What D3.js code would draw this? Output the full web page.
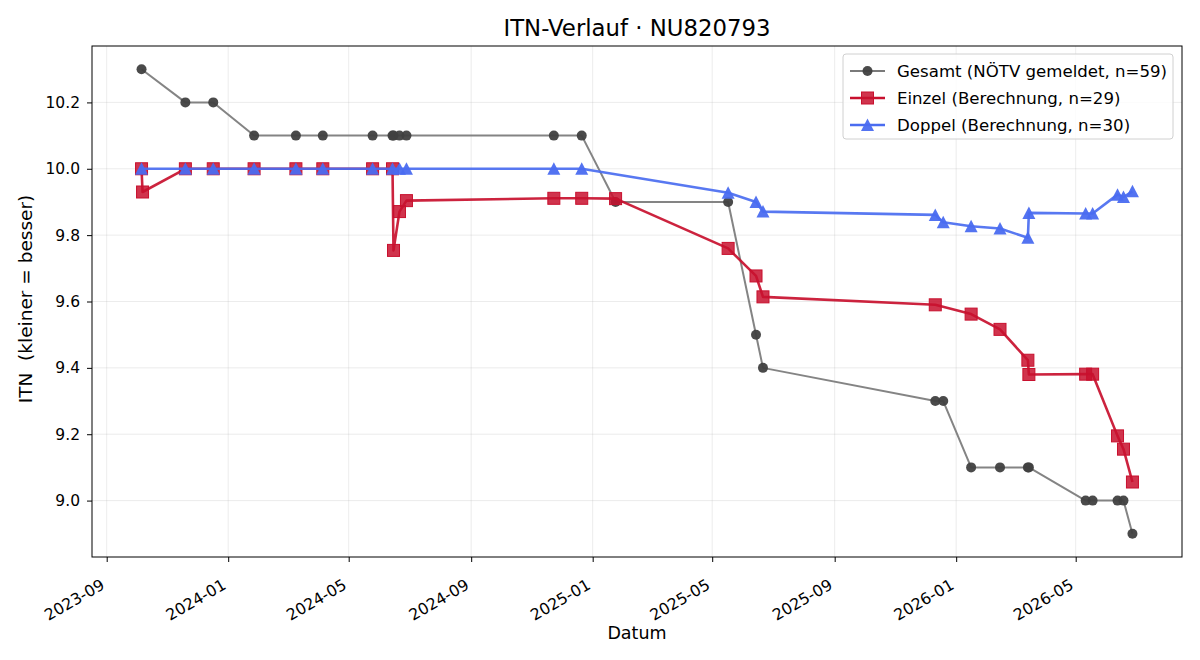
<!DOCTYPE html>
<html>
<head>
<meta charset="utf-8">
<script src="https://cdn.jsdelivr.net/npm/d3@7"></script>
<style>
  body { margin: 0; background: #fff; }
  svg { font-family: "DejaVu Sans", sans-serif; }
</style>
</head>
<body>
<div id="wrapper"></div>
<script>
// Gesamt (NÖTV gemeldet)
const gesamtDates = ["2023-10-06","2023-11-19","2023-12-17","2024-01-27","2024-03-09","2024-04-05","2024-05-25",
    "2024-06-14","2024-06-15","2024-06-21","2024-06-28","2024-11-23","2024-12-21","2025-01-24","2025-05-17",
    "2025-06-14","2025-06-21","2025-12-11","2025-12-19","2026-01-16","2026-02-14","2026-03-14","2026-03-15",
    "2026-05-11","2026-05-18","2026-06-12","2026-06-18","2026-06-27"]
const gesamtValues = [10.3,10.2,10.2,10.1,10.1,10.1,10.1,10.1,10.1,10.1,10.1,10.1,10.1,9.9,9.9,
    9.5,9.4,9.3,9.3,9.1,9.1,9.1,9.1,9.0,9.0,9.0,9.0,8.9]

// Einzel (Berechnung)
const einzelDates = ["2023-10-06","2023-10-07","2023-11-19","2023-12-17","2024-01-27","2024-03-09","2024-04-05",
    "2024-05-25","2024-06-14","2024-06-15","2024-06-21","2024-06-28","2024-11-23","2024-12-21","2025-01-24",
    "2025-05-17","2025-06-14","2025-06-21","2025-12-11","2026-01-16","2026-02-14","2026-03-14","2026-03-15",
    "2026-05-11","2026-05-18","2026-06-12","2026-06-18","2026-06-27"]
const einzelValues = [10.0,9.93,10.0,10.0,10.0,10.0,10.0,10.0,10.0,9.754,9.871,9.904,9.911,9.911,9.91,
    9.76,9.677,9.614,9.59,9.562,9.516,9.423,9.38,9.381,9.381,9.195,9.155,9.056]

// Doppel (Berechnung)
const doppelDates = ["2023-10-06","2023-11-19","2023-12-17","2024-01-27","2024-03-09","2024-04-05","2024-05-25",
    "2024-06-14","2024-06-21","2024-06-28","2024-11-23","2024-12-21","2025-05-17","2025-06-14","2025-06-21",
    "2025-12-11","2025-12-19","2026-01-16","2026-02-14","2026-03-14","2026-03-15","2026-05-11","2026-05-18",
    "2026-06-12","2026-06-18","2026-06-27"]
const doppelValues = [10.0,10.0,10.0,10.0,10.0,10.0,10.0,10.0,10.0,10.0,10.0,10.0,9.928,9.90,9.871,
    9.861,9.839,9.827,9.82,9.792,9.867,9.865,9.865,9.922,9.915,9.932]

const yTicks = [9.0,9.2,9.4,9.6,9.8,10.0,10.2]
const legendLabels = ["Gesamt (NÖTV gemeldet, n=59)", "Einzel (Berechnung, n=29)", "Doppel (Berechnung, n=30)"]

function drawchart() {
    const parse = d3.timeParse("%Y-%m-%d")
    const toPts = (ds, vs) => ds.map((d, i) => ({X: parse(d), Y: vs[i]}))
    const series = [
        {name: legendLabels[0], data: toPts(gesamtDates, gesamtValues), line: "#7a7a7a", fill: "#404040", shape: "circle", lw: 2},
        {name: legendLabels[1], data: toPts(einzelDates, einzelValues), line: "#c8102e", fill: "#c8102e", shape: "square", lw: 2.6},
        {name: legendLabels[2], data: toPts(doppelDates, doppelValues), line: "#4a6cf0", fill: "#4a6cf0", shape: "triangle", lw: 2.6}
    ]

    const width = 1200, height = 660
    const left = 92, right = 1182, top = 46, bottom = 557
    const font = "DejaVu Sans, sans-serif"

    const parent = d3.select("#wrapper")
    parent.selectAll('*').remove()
    const svg = parent.append("svg").attr("width", width).attr("height", height)

    const all = series.flatMap(s => s.data)
    const xExt = d3.extent(all, d => d.X)
    const xPad = (xExt[1] - xExt[0]) * 0.05
    const yExt = d3.extent(all, d => d.Y)
    const yPad = (yExt[1] - yExt[0]) * 0.05

    const xScaler = d3.scaleTime()
        .domain([new Date(+xExt[0] - xPad), new Date(+xExt[1] + xPad)])
        .range([left, right])
    const yScaler = d3.scaleLinear()
        .domain([yExt[0] - yPad, yExt[1] + yPad])
        .range([bottom, top])

    const xTicks = xScaler.ticks(d3.timeMonth.every(4))

    // grid
    const grid = svg.append("g").attr("stroke", "#b0b0b0").attr("stroke-opacity", 0.3).attr("stroke-width", 0.8)
    grid.selectAll(".gx").data(xTicks).enter().append("line")
        .attr("x1", d => xScaler(d)).attr("x2", d => xScaler(d))
        .attr("y1", top).attr("y2", bottom)
    grid.selectAll(".gy").data(yTicks).enter().append("line")
        .attr("y1", d => yScaler(d)).attr("y2", d => yScaler(d))
        .attr("x1", left).attr("x2", right)

    // axes
    const xAxis = d3.axisBottom(xScaler).tickValues(xTicks).tickFormat(d3.timeFormat("%Y-%m"))
        .tickSizeInner(5).tickSizeOuter(0).tickPadding(4)
    const yAxis = d3.axisLeft(yScaler).tickValues(yTicks).tickFormat(d3.format(".1f"))
        .tickSizeInner(5).tickSizeOuter(0).tickPadding(7)

    const gx = svg.append("g").attr("transform", "translate(0," + bottom + ")").call(xAxis)
        .attr("font-family", font).attr("font-size", 15.8)
    gx.select(".domain").remove()
    gx.selectAll("text")
        .attr("fill", "#000")
        .attr("text-anchor", "end")
        .attr("x", 0).attr("y", 0).attr("dy", 0)
        .attr("transform", "translate(-1.5,31) rotate(-30)")
    gx.selectAll("line").attr("stroke", "#000")

    const gy = svg.append("g").attr("transform", "translate(" + left + ",0)").call(yAxis)
        .attr("font-family", font).attr("font-size", 15.5)
    gy.select(".domain").remove()
    gy.selectAll("text").attr("fill", "#000")
    gy.selectAll("line").attr("stroke", "#000")

    // frame
    svg.append("rect")
        .attr("x", left).attr("y", top).attr("width", right - left).attr("height", bottom - top)
        .attr("fill", "none").attr("stroke", "#000").attr("stroke-width", 1)

    const line = d3.line().x(d => xScaler(d.X)).y(d => yScaler(d.Y))

    function marker(g, shape, fill, cx, cy) {
        if (shape === "circle") {
            g.append("circle").attr("cx", cx).attr("cy", cy).attr("r", 5)
                .attr("fill", fill).attr("fill-opacity", 0.95)
        } else if (shape === "square") {
            g.append("rect").attr("x", cx - 6).attr("y", cy - 6).attr("width", 12).attr("height", 12)
                .attr("fill", fill).attr("fill-opacity", 0.85).attr("stroke", fill).attr("stroke-width", 1)
        } else {
            g.append("path").attr("d", "M" + cx + "," + (cy - 6.5) + "L" + (cx - 6.5) + "," + (cy + 6)
                + "L" + (cx + 6.5) + "," + (cy + 6) + "Z")
                .attr("fill", fill).attr("fill-opacity", 0.95)
        }
    }

    series.forEach(s => {
        const g = svg.append("g")
        g.append("path").datum(s.data)
            .attr("d", line)
            .attr("fill", "none")
            .attr("stroke", s.line)
            .attr("stroke-width", s.lw)
            .attr("stroke-opacity", 0.92)
            .attr("stroke-linejoin", "round")
        s.data.forEach(d => marker(g, s.shape, s.fill, xScaler(d.X), yScaler(d.Y)))
    })

    // title and labels
    svg.append("text").attr("x", (left + right) / 2).attr("y", 36)
        .attr("text-anchor", "middle").attr("font-size", 22.8).text("ITN-Verlauf · NU820793")
    svg.append("text").attr("x", (left + right) / 2).attr("y", 639)
        .attr("text-anchor", "middle").attr("font-size", 17.5).text("Datum")
    svg.append("text")
        .attr("transform", "translate(32,299) rotate(-90)")
        .attr("text-anchor", "middle").attr("font-size", 18.5)
        .style("white-space", "pre")
        .text("ITN  (kleiner = besser)")

    // legend
    const lg = svg.append("g")
    lg.append("rect").attr("x", 843).attr("y", 54).attr("width", 330).attr("height", 85)
        .attr("rx", 3).attr("fill", "#fff").attr("fill-opacity", 0.8)
        .attr("stroke", "#d0d0d0").attr("stroke-width", 1)
    series.forEach((s, i) => {
        const yy = 71 + i * 27
        lg.append("line").attr("x1", 850).attr("x2", 885).attr("y1", yy).attr("y2", yy)
            .attr("stroke", s.line).attr("stroke-width", s.lw)
        marker(lg, s.shape, s.fill, 867.5, yy)
        lg.append("text").attr("x", 897).attr("y", yy).attr("dy", "0.35em")
            .attr("font-size", 16.6).text(s.name)
    })
}
drawchart()
</script>
</body>
</html>
